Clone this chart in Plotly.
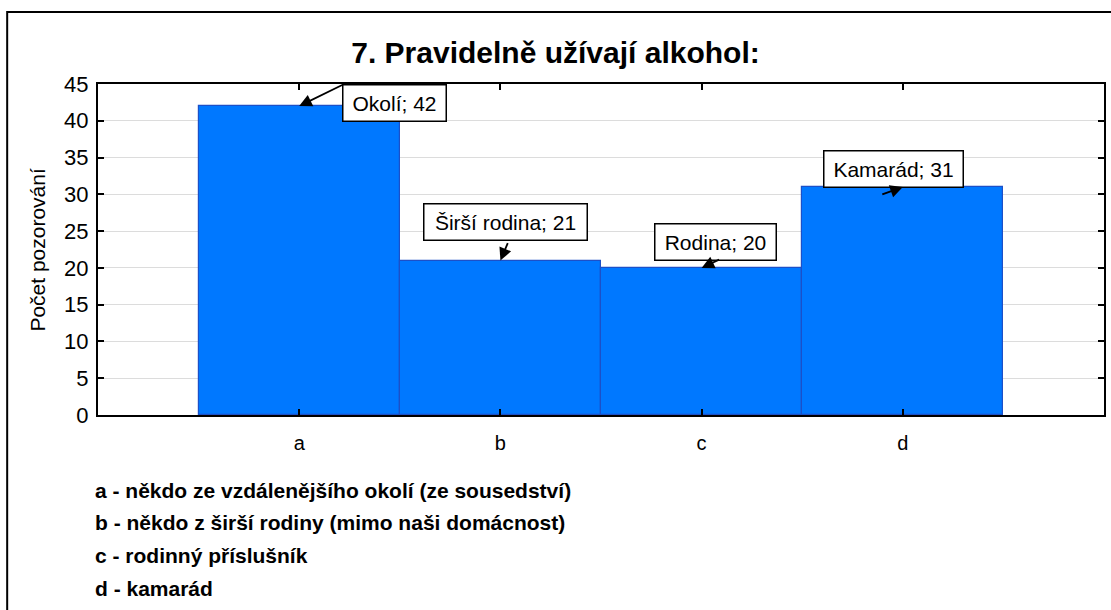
import plotly.graph_objects as go

categories = ["a", "b", "c", "d"]
values = [42, 21, 20, 31]
bar_labels = ["Okolí", "Širší rodina", "Rodina", "Kamarád"]
legend_lines = [
    "a - někdo ze vzdálenějšího okolí (ze sousedství)",
    "b - někdo z širší rodiny (mimo naši domácnost)",
    "c - rodinný příslušník",
    "d - kamarád",
]
title = "7. Pravidelně užívají alkohol:"
y_title = "Počet pozorování"
y_ticks = list(range(0, 50, 5))

FONT = "Arial, Liberation Sans, sans-serif"

fig = go.Figure()
fig.add_trace(go.Bar(
    x=categories, y=values, width=1,
    marker=dict(color="#0078ff", line=dict(color="#1c50c8", width=1.2)),
    showlegend=False, hoverinfo="x+y",
))

# label boxes and arrows (pixel offsets relative to bar tops) - layout only
box_shift = [(95, 3), (5, 39), (14, 26), (-9, 18)]
box_width = [96, 156, 114, 132]
arrow_tail = [(45, -22), (8, -19), (19, -9), (-22, 8)]

ann = []
for cat, v, lab, (xs, ys), w, (ax, ay) in zip(categories, values, bar_labels,
                                                box_shift, box_width, arrow_tail):
    ann.append(dict(
        x=cat, y=v, xref="x", yref="y", text=f"{lab}; {v}", showarrow=False,
        xshift=xs, yshift=ys, width=w, height=29,
        font=dict(family=FONT, size=21, color="black"),
        bgcolor="white", bordercolor="black", borderwidth=1.5, borderpad=3,
    ))
    ann.append(dict(
        x=cat, y=v, xref="x", yref="y", text="", showarrow=True,
        ax=ax, ay=ay, axref="pixel", ayref="pixel",
        arrowhead=2, arrowsize=1.4, arrowwidth=1.8, arrowcolor="black",
    ))

ann.append(dict(
    x=(37 - 98) / 1008, y=0.5, xref="paper", yref="paper", text=y_title, textangle=-90,
    showarrow=False, font=dict(family=FONT, size=21, color="black"),
    xanchor="center", yanchor="middle",
))

legend_y_px = [490, 522, 555, 588]
for line, ypx in zip(legend_lines, legend_y_px):
    ann.append(dict(
        x=(93 - 98) / 1008, y=(415 - ypx) / 331, xref="paper", yref="paper",
        text=f"<b>{line}</b>",
        showarrow=False, xanchor="left", yanchor="middle",
        font=dict(family=FONT, size=21, color="black"),
    ))

fig.update_layout(
    width=1111, height=610,
    margin=dict(l=98, r=5, t=84, b=195),
    paper_bgcolor="white", plot_bgcolor="white",
    font=dict(family=FONT, color="black"),
    title=dict(text=f"<b>{title}</b>", x=0.5, xanchor="center", y=1 - 52 / 610,
               yanchor="middle", font=dict(family=FONT, size=30, color="black")),
    bargap=0,
    annotations=ann,
    shapes=[dict(type="rect", xref="paper", yref="paper",
                 x0=(7 - 98) / 1008, x1=1.05, y0=-0.8, y1=(415 - 12) / 331,
                 line=dict(color="black", width=2), fillcolor="rgba(0,0,0,0)",
                 layer="below")],
)
fig.update_xaxes(
    type="category", range=[-1, 4], showgrid=False,
    showline=True, linecolor="black", linewidth=2, mirror="ticks",
    ticks="inside", ticklen=6, tickwidth=2, tickcolor="black",
    tickfont=dict(family=FONT, size=20, color="black"), ticklabelstandoff=9,
)
fig.update_yaxes(
    range=[0, 45], tickvals=y_ticks, showgrid=True, gridcolor="#dcdcdc", gridwidth=1,
    showline=True, linecolor="black", linewidth=2, mirror="ticks",
    ticks="inside", ticklen=6, tickwidth=1.5, tickcolor="black",
    tickfont=dict(family=FONT, size=22, color="black"), zeroline=False,
    ticklabelstandoff=3,
)

fig.write_html("out.html", config={"displayModeBar": False},
               post_script="document.body.style.margin='0';")
